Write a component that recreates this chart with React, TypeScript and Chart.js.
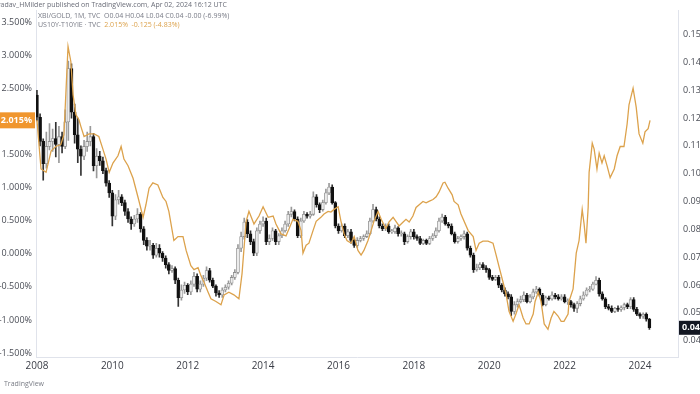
import React, { useEffect, useRef } from "react";
import { Chart, registerables } from "chart.js";

Chart.register(...registerables);

// ---------- DATA ----------
const startYear = 2008; // month index 0 = Jan 2008
const yearTickLabels = [2008, 2010, 2012, 2014, 2016, 2018, 2020, 2022, 2024];
const leftTickValues = [-1.5, -1.0, -0.5, 0.0, 0.5, 1.0, 1.5, 2.0, 2.5, 3.0, 3.5];
const rightTickValues = [0.04, 0.05, 0.06, 0.07, 0.08, 0.09, 0.1, 0.11, 0.12, 0.13, 0.14, 0.15];

// XBI/GOLD monthly candles (right axis)
const xbiFirstOpen = 0.1283;
const xbiClose = [
  0.1203, 0.1116, 0.1036, 0.1098, 0.1116, 0.1126, 0.1105, 0.1133, 0.1098, 0.1186, 0.1378, 0.1221, 0.114, 0.1088, 0.1063, 0.1098, 0.1116, 0.1133, 0.1029, 0.1063, 0.1046, 0.1011, 0.0966, 0.0931, 0.0847,
  0.0906, 0.0917, 0.0896, 0.0864, 0.0837, 0.0819, 0.0837, 0.0854, 0.0802, 0.076, 0.0739, 0.0742, 0.0707, 0.0732, 0.0714, 0.0697, 0.0673, 0.0652, 0.0659, 0.0617, 0.0554, 0.0582, 0.0599, 0.0575, 0.0603, 0.0631, 0.0585, 0.0603, 0.0624, 0.0652, 0.0617, 0.0596, 0.0571, 0.0564, 0.0582, 0.0592, 0.0606, 0.0627, 0.0645, 0.0732, 0.0774, 0.0826, 0.0784, 0.0756, 0.0714,
  0.0795, 0.0819, 0.083, 0.0756, 0.0767, 0.0795, 0.0756, 0.0777, 0.0795, 0.0819, 0.0854, 0.0864, 0.0837, 0.0777, 0.083, 0.0854, 0.0847, 0.0854, 0.0917, 0.0889, 0.0871, 0.0896, 0.0931, 0.0952, 0.0896, 0.0812, 0.0795, 0.0812, 0.0777, 0.0791, 0.076, 0.0742, 0.076, 0.0767, 0.0774, 0.0784, 0.083, 0.0871, 0.0837, 0.0812, 0.0802, 0.0812, 0.0791, 0.0791, 0.0805, 0.0784, 0.0784, 0.0756, 0.0774, 0.0791, 0.0774, 0.0767, 0.0749, 0.076, 0.0749, 0.0767, 0.0777, 0.0795, 0.083, 0.0844, 0.0819, 0.0812, 0.0784, 0.0756, 0.0767, 0.0774,
  0.0784, 0.0732, 0.0707, 0.0655, 0.0662, 0.0673, 0.0662, 0.0655, 0.0627, 0.062, 0.0627, 0.0599, 0.0582, 0.0568, 0.0557, 0.0505, 0.0529, 0.054, 0.0547, 0.0564, 0.054, 0.0557, 0.0575, 0.0585, 0.0564, 0.0529, 0.0554, 0.055, 0.0564, 0.0557, 0.055, 0.0557, 0.054, 0.054, 0.0529, 0.0516, 0.0533, 0.055, 0.0564, 0.0582, 0.0585, 0.0603, 0.0617, 0.0568, 0.055, 0.0522, 0.0516, 0.0505, 0.0516, 0.0512, 0.0519, 0.0529, 0.0522, 0.0547, 0.0512, 0.0495, 0.0488, 0.0495, 0.0477, 0.0446,
];
const xbiHigh = [
  0.13, 0.1215, 0.1125, 0.115, 0.118, 0.116, 0.1185, 0.117, 0.115, 0.123, 0.1405, 0.1395, 0.125, 0.12, 0.11, 0.112, 0.115, 0.117, 0.1145, 0.109, 0.108, 0.106, 0.102, 0.0975, 0.094,
  0.0925, 0.094, 0.0925, 0.0905, 0.0875, 0.0845, 0.085, 0.0875, 0.086, 0.081, 0.077, 0.076, 0.075, 0.075, 0.0745, 0.072, 0.0705, 0.068, 0.067, 0.0665, 0.0625, 0.06, 0.061, 0.0605, 0.0615, 0.0645, 0.064, 0.0615, 0.0635, 0.0665, 0.066, 0.0625, 0.06, 0.058, 0.059, 0.06, 0.0615, 0.0635, 0.0655, 0.0745, 0.079, 0.084, 0.0835, 0.0795, 0.0765,
  0.0805, 0.083, 0.0845, 0.084, 0.078, 0.0805, 0.08, 0.0785, 0.0805, 0.083, 0.0865, 0.088, 0.087, 0.0845, 0.084, 0.0865, 0.086, 0.0865, 0.0935, 0.0925, 0.0895, 0.0905, 0.0945, 0.0965, 0.096, 0.09, 0.082, 0.082, 0.082, 0.08, 0.08, 0.0765, 0.077, 0.0775, 0.078, 0.0795, 0.084, 0.089, 0.088, 0.0845, 0.082, 0.082, 0.082, 0.08, 0.0815, 0.081, 0.0795, 0.079, 0.078, 0.08, 0.08, 0.078, 0.0775, 0.0765, 0.0765, 0.0775, 0.0785, 0.0805, 0.084, 0.0855, 0.085, 0.0825, 0.082, 0.079, 0.0775, 0.078,
  0.0795, 0.079, 0.074, 0.0715, 0.0675, 0.068, 0.068, 0.067, 0.066, 0.0635, 0.0635, 0.0635, 0.0605, 0.059, 0.0575, 0.0565, 0.054, 0.055, 0.056, 0.0575, 0.057, 0.0565, 0.0585, 0.0595, 0.059, 0.057, 0.056, 0.056, 0.0575, 0.057, 0.0565, 0.0565, 0.0565, 0.055, 0.0545, 0.0535, 0.054, 0.056, 0.0575, 0.059, 0.0595, 0.061, 0.063, 0.0625, 0.0575, 0.0555, 0.053, 0.0525, 0.052, 0.0525, 0.0525, 0.0535, 0.0535, 0.0555, 0.0555, 0.052, 0.05, 0.05, 0.05, 0.048,
];
const xbiLow = [
  0.119, 0.11, 0.0977, 0.102, 0.1085, 0.108, 0.106, 0.104, 0.1075, 0.109, 0.112, 0.12, 0.111, 0.104, 0.0994, 0.105, 0.108, 0.11, 0.101, 0.0985, 0.103, 0.1, 0.0955, 0.0915, 0.0812,
  0.0835, 0.089, 0.0885, 0.085, 0.0825, 0.08, 0.081, 0.0825, 0.079, 0.0745, 0.0725, 0.0725, 0.0695, 0.07, 0.07, 0.0685, 0.066, 0.064, 0.0645, 0.0605, 0.0523, 0.0545, 0.057, 0.0565, 0.0565, 0.0595, 0.0575, 0.0575, 0.0595, 0.0615, 0.061, 0.059, 0.056, 0.0555, 0.0555, 0.0575, 0.0585, 0.06, 0.062, 0.064, 0.072, 0.0765, 0.077, 0.0745, 0.0705,
  0.0705, 0.0785, 0.081, 0.0745, 0.0745, 0.076, 0.0745, 0.0745, 0.077, 0.079, 0.081, 0.0845, 0.083, 0.077, 0.077, 0.0825, 0.084, 0.084, 0.085, 0.088, 0.086, 0.0865, 0.089, 0.0925, 0.089, 0.0805, 0.0785, 0.079, 0.077, 0.077, 0.075, 0.0735, 0.0735, 0.0755, 0.076, 0.077, 0.078, 0.0825, 0.083, 0.0805, 0.0795, 0.0795, 0.0785, 0.0785, 0.0785, 0.0775, 0.0775, 0.0745, 0.075, 0.0765, 0.0765, 0.076, 0.0745, 0.0745, 0.0745, 0.0745, 0.076, 0.077, 0.079, 0.0825, 0.0815, 0.0805, 0.078, 0.075, 0.075, 0.076,
  0.0765, 0.0725, 0.07, 0.0645, 0.065, 0.0655, 0.0655, 0.0645, 0.062, 0.0615, 0.0615, 0.059, 0.0575, 0.056, 0.055, 0.049, 0.0495, 0.052, 0.0535, 0.054, 0.0535, 0.0535, 0.055, 0.057, 0.056, 0.0525, 0.0525, 0.0545, 0.0545, 0.055, 0.0545, 0.0545, 0.0535, 0.053, 0.052, 0.0505, 0.05, 0.0525, 0.0545, 0.056, 0.0575, 0.058, 0.06, 0.056, 0.0545, 0.0515, 0.051, 0.05, 0.05, 0.0505, 0.0505, 0.051, 0.0515, 0.0515, 0.0505, 0.049, 0.048, 0.048, 0.047, 0.044,
];

// US10Y-T10YIE (left axis, %), month offsets since Jan 2008
const realYieldMonth = [
  0, 1.3, 2.9, 4.5, 6, 7.6, 8.6, 9.9, 10.8, 11.5, 12.4, 13.4, 14, 15, 16.6, 18.2, 19.7, 21, 22, 23, 24.2, 25.8, 26.8, 27.7, 29, 30.6, 32.2, 33.8, 34.7, 35.7, 36.9, 38.5, 40.1, 41.1, 42, 43.6, 44.9, 46.5, 47.5, 49, 50, 51.3, 52.2, 53.2, 54.5, 55.4, 57, 58.6, 59.6, 61.1, 62.7, 64.3, 65.3, 66.6, 67.5, 69.1, 70.7, 72, 73.6, 75.2, 76.1, 77.7, 79.3, 80.3, 81.5, 83.1, 84.1, 84.7, 85.7, 86.6, 87.9, 88.9, 90.4, 91.4, 92.7, 93.6, 94.6, 95.9, 96.8, 97.8, 98.7, 100, 101, 102.2, 103.2, 104.1, 105.4, 106.4, 107.3, 108.6, 109.6, 111.1, 112.1, 113.4, 114.3, 115.3, 116.6, 117.5, 118.5, 119.7, 120.7, 121.7, 122.9, 123.9, 124.8, 126.1, 127.1, 128, 129.3, 129.9, 130.9, 132.2, 132.8, 134.1, 135, 137.3, 138.9, 139.8, 140.8, 142, 143.6, 145.2, 146.2, 147.2, 148.4, 149.4, 150.3, 151.6, 152.5, 153.5, 154.8, 155.7, 156.7, 158, 158.6, 159.6, 160.5, 161.5, 162.7, 163.7, 164.6, 165.9, 166.9, 167.8, 169.1, 169.4, 170.7, 171.7, 172.6, 173.6, 174.2, 174.8, 175.5, 175.8, 176.8, 177.4, 178.3, 179, 179.9, 180.6, 181.5, 182.5, 183.8, 184.7, 185.7, 186.9, 187.9, 188.5, 189.8, 190.8, 191.7, 192.9, 193.6, 194.6, 195.2,
];
const realYieldValue = [
  2.02, 1.28, 1.23, 1.55, 1.62, 1.65, 1.8, 3.13, 2.9, 2.4, 2.1, 2.02, 1.92, 1.77, 1.81, 1.81, 1.77, 1.58, 1.43, 1.23, 1.37, 1.48, 1.62, 1.43, 1.33, 1.14, 0.85, 0.55, 0.74, 0.99, 1.07, 1.04, 0.85, 0.79, 0.64, 0.2, 0.26, 0.26, 0.05, -0.18, -0.24, -0.21, -0.33, -0.43, -0.58, -0.68, -0.72, -0.77, -0.62, -0.58, -0.62, -0.68, -0.3, 0.49, 0.64, 0.45, 0.57, 0.71, 0.55, 0.57, 0.45, 0.3, 0.27, 0.38, 0.52, 0.49, 0.35, 0.01, 0.13, 0.16, 0.35, 0.49, 0.55, 0.6, 0.64, 0.63, 0.67, 0.71, 0.49, 0.3, 0.2, 0.16, 0.26, 0.05, -0.02, 0.05, 0.2, 0.35, 0.49, 0.64, 0.52, 0.38, 0.48, 0.55, 0.49, 0.42, 0.48, 0.52, 0.48, 0.57, 0.7, 0.74, 0.79, 0.77, 0.79, 0.82, 0.86, 0.93, 1.07, 1.08, 0.99, 0.89, 0.79, 0.74, 0.6, 0.35, 0.26, 0.05, 0.16, 0.19, 0.19, 0.16, -0.02, -0.21, -0.43, -0.62, -0.87, -1.02, -0.91, -0.77, -0.97, -1.06, -1.06, -0.91, -0.72, -0.58, -0.72, -1.06, -1.14, -0.97, -0.87, -0.94, -1.02, -1.02, -0.91, -0.72, -0.53, 0.01, 0.2, 0.67, 0.45, 0.16, 0.7, 1.23, 1.67, 1.58, 1.28, 1.52, 1.37, 1.48, 1.33, 1.15, 1.28, 1.48, 1.62, 1.62, 1.96, 2.25, 2.5, 2.21, 1.81, 1.67, 1.84, 1.89, 2.015,
];
const realYieldLast = 2.015;

const headerLine1 = "yadav_HMilder published on TradingView.com, Apr 02, 2024 16:12 UTC";
const headerLine2 = "XBI/GOLD, 1M, TVC  O0.04 H0.04 L0.04 C0.04 -0.00 (-6.99%)";
const headerLine3a = "US10Y-T10YIE · TVC  ";
const headerLine3b = "2.015%  -0.125 (-4.83%)";

const FONT = "'Open Sans', 'Liberation Sans', sans-serif";
const ORANGE = "#dca24c";

export default function App() {
  const ref = useRef<HTMLCanvasElement | null>(null);

  useEffect(() => {
    document.body.style.margin = "0";
    const canvas = ref.current;
    if (!canvas) return;

    const opens = [xbiFirstOpen, ...xbiClose.slice(0, -1)];
    const isUp = xbiClose.map((c, i) => c >= opens[i]);

    const wickData = xbiClose.map((_, i) => ({ x: i, y: [xbiLow[i], xbiHigh[i]] }));
    const bodyData = xbiClose.map((c, i) => ({ x: i, y: [opens[i], c] }));
    const lineData = realYieldMonth.map((m, i) => ({ x: m, y: realYieldValue[i] }));

    const overlay = {
      id: "overlay",
      afterDraw(chart: any) {
        const ctx = chart.ctx;
        const yL = chart.scales.yL;
        const yR = chart.scales.yR;
        const area = chart.chartArea;
        ctx.save();
        // header
        ctx.font = `7px ${FONT}`;
        ctx.textBaseline = "middle";
        ctx.textAlign = "left";
        ctx.fillStyle = "#6a6d78";
        ctx.fillText(headerLine1, -3, 5);
        ctx.fillStyle = "#787b86";
        ctx.fillText(headerLine2, 38, 16);
        ctx.fillText(headerLine3a, 38, 25);
        const w = ctx.measureText(headerLine3a).width;
        ctx.fillStyle = ORANGE;
        ctx.fillText(headerLine3b, 38 + w, 25);

        // left tag
        const ly = yL.getPixelForValue(realYieldLast);
        ctx.fillStyle = "#f0962e";
        ctx.fillRect(0, ly - 8, area.left - 1, 16);
        ctx.fillStyle = "#ffffff";
        ctx.font = `bold 9px ${FONT}`;
        ctx.textAlign = "right";
        ctx.fillText(realYieldLast.toFixed(3) + "%", area.left - 4, ly);

        // right tag
        const last = xbiClose[xbiClose.length - 1];
        const ry = yR.getPixelForValue(last);
        ctx.fillStyle = "#131722";
        ctx.fillRect(area.right + 1, ry - 7, 30, 14);
        ctx.fillStyle = "#ffffff";
        ctx.textAlign = "left";
        ctx.fillText(last.toFixed(4), area.right + 4, ry);

        // watermark
        ctx.font = `7px ${FONT}`;
        ctx.fillStyle = "#7a7d86";
        ctx.fillText("TradingView", 4, 384);
        ctx.restore();
      },
    };

    const chart = new Chart(canvas, {
      type: "bar",
      data: {
        datasets: [
          {
            type: "line",
            label: "US10Y-T10YIE",
            data: lineData,
            yAxisID: "yL",
            borderColor: ORANGE,
            borderWidth: 1.3,
            pointRadius: 0,
            tension: 0,
            order: 0,
          } as any,
          {
            type: "bar",
            label: "body",
            data: bodyData,
            yAxisID: "yR",
            grouped: false,
            barThickness: 3,
            minBarLength: 1,
            backgroundColor: isUp.map((u) => (u ? "#ececec" : "#111111")),
            borderColor: isUp.map((u) => (u ? "#8f8f8f" : "#111111")),
            borderWidth: 0.8,
            borderSkipped: false,
            order: 1,
          } as any,
          {
            type: "bar",
            label: "wick",
            data: wickData,
            yAxisID: "yR",
            grouped: false,
            barThickness: 1,
            backgroundColor: isUp.map((u) => (u ? "#9a9a9a" : "#333333")),
            order: 2,
          } as any,
        ],
      },
      options: {
        animation: false,
        responsive: false,
        maintainAspectRatio: false,
        layout: { padding: { left: 0, right: 0, top: 0, bottom: 21 } },
        plugins: { legend: { display: false }, tooltip: { enabled: false } },
        scales: {
          x: {
            type: "linear",
            offset: false,
            min: -0.3,
            max: 204.1,
            grid: { display: false, drawTicks: false, tickLength: 0 },
            border: { display: true, color: "#e0e3eb" },
            afterBuildTicks: (s: any) => {
              s.ticks = yearTickLabels.map((y) => ({ value: (y - startYear) * 12 }));
            },
            afterFit: (s: any) => {
              s.height = 16;
            },
            ticks: {
              font: { family: FONT, size: 10 },
              color: "#3a3d46",
              padding: 3,
              maxRotation: 0,
              autoSkip: false,
              callback: (v: any) => String(Math.round(startYear + Number(v) / 12)),
            },
          },
          yL: {
            type: "linear",
            position: "left",
            min: -1.559,
            max: 3.675,
            grid: { display: false, drawTicks: false, tickLength: 0 },
            border: { display: true, color: "#e0e3eb" },
            afterBuildTicks: (s: any) => {
              s.ticks = leftTickValues.map((v) => ({ value: v }));
            },
            afterFit: (s: any) => {
              s.width = 36;
            },
            ticks: {
              font: { family: FONT, size: 9 },
              color: "#4a4d56",
              padding: 4,
              callback: (v: any) => Number(v).toFixed(3) + "%",
            },
          },
          yR: {
            type: "linear",
            position: "right",
            min: 0.0341,
            max: 0.1587,
            grid: { display: false, drawTicks: false, tickLength: 0 },
            border: { display: true, color: "#e0e3eb" },
            afterBuildTicks: (s: any) => {
              s.ticks = rightTickValues.map((v) => ({ value: v }));
            },
            afterFit: (s: any) => {
              s.width = 22;
            },
            ticks: {
              font: { family: FONT, size: 9 },
              color: "#4a4d56",
              padding: 5,
              callback: (v: any) => Number(v).toFixed(2),
            },
          },
        },
      },
      plugins: [overlay],
    } as any);

    return () => {
      chart.destroy();
    };
  }, []);

  return (
    <div style={{ width: 700, height: 394, background: "#ffffff" }}>
      <canvas ref={ref} width={700} height={394} style={{ display: "block", width: 700, height: 394 }} />
    </div>
  );
}
